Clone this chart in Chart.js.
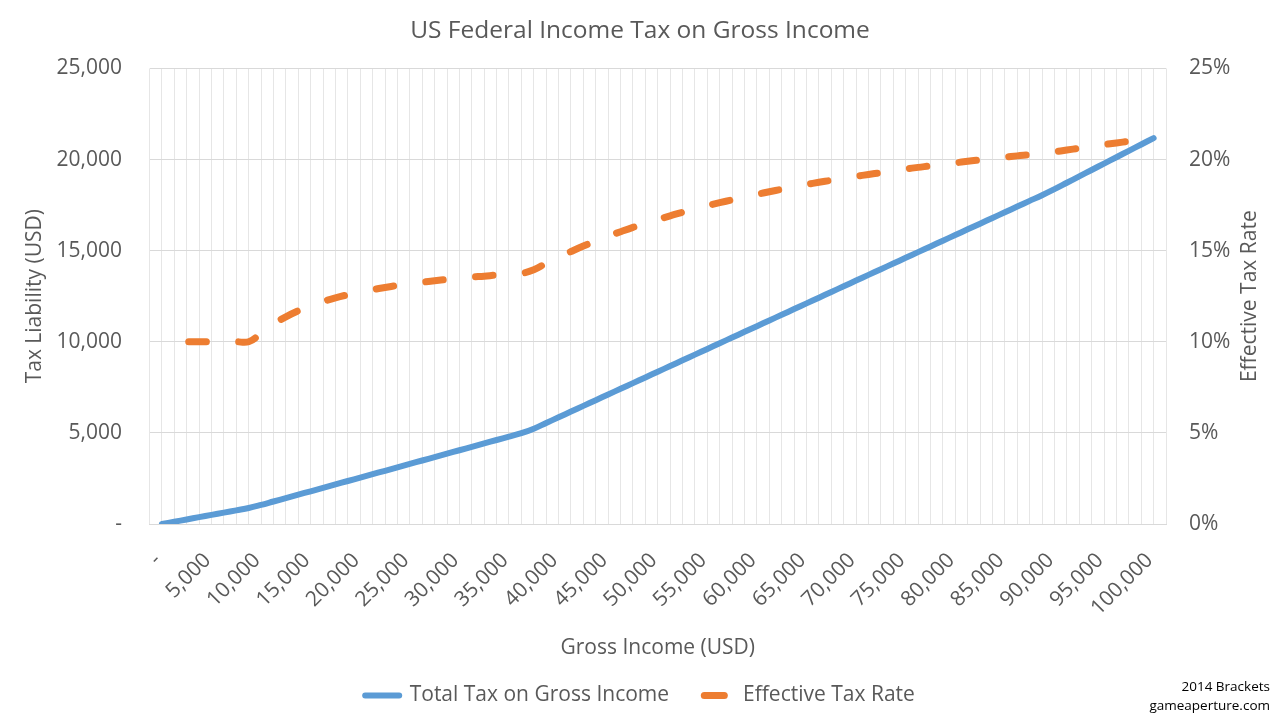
<!DOCTYPE html>
<html>
<head>
<meta charset="utf-8">
<script src="https://cdn.jsdelivr.net/npm/chart.js@4.4.1/dist/chart.umd.min.js"></script>
<style>
  html, body { margin: 0; padding: 0; background: #ffffff; }
  #wrap { position: relative; width: 1280px; height: 720px; }
  #note { position: absolute; right: 10px; top: 677px; font-family: "Open Sans", sans-serif; font-size: 13.5px; line-height: 19px; color: #000; text-align: right; }
</style>
</head>
<body>
<div id="wrap">
  <canvas id="c" width="1280" height="720"></canvas>
  <div id="note">2014 Brackets<br>gameaperture.com</div>
</div>
<script>
const incomes = [0,1250,2500,3750,5000,6250,7500,8750,10000,11250,12500,13750,15000,16250,17500,18750,20000,21250,22500,23750,25000,26250,27500,28750,30000,31250,32500,33750,35000,36250,37500,38750,40000,41250,42500,43750,45000,46250,47500,48750,50000,51250,52500,53750,55000,56250,57500,58750,60000,61250,62500,63750,65000,66250,67500,68750,70000,71250,72500,73750,75000,76250,77500,78750,80000,81250,82500,83750,85000,86250,87500,88750,90000,91250,92500,93750,95000,96250,97500,98750,100000];
const totalTax = [0,125,250,375,500,625,750,875,1046,1234,1421,1609,1796,1984,2171,2359,2546,2734,2921,3109,3296,3484,3671,3859,4046,4234,4421,4609,4796,4984,5231,5544,5856,6169,6481,6794,7106,7419,7731,8044,8356,8669,8981,9294,9606,9919,10231,10544,10856,11169,11481,11794,12106,12419,12731,13044,13356,13669,13981,14294,14606,14919,15231,15544,15856,16169,16481,16794,17106,17419,17731,18044,18376,18726,19076,19426,19776,20126,20476,20826,21176];
const effectiveRate = [null,10,10,10,10,10,10,10,10.46,10.97,11.37,11.70,11.98,12.21,12.41,12.58,12.73,12.86,12.98,13.09,13.19,13.27,13.35,13.42,13.49,13.55,13.60,13.66,13.70,13.75,13.95,14.31,14.64,14.95,15.25,15.53,15.79,16.04,16.28,16.50,16.71,16.91,17.11,17.29,17.47,17.63,17.79,17.95,18.09,18.23,18.37,18.50,18.63,18.75,18.86,18.97,19.08,19.18,19.28,19.38,19.48,19.57,19.65,19.74,19.82,19.90,19.98,20.05,20.13,20.20,20.26,20.33,20.42,20.52,20.62,20.72,20.82,20.91,21.00,21.09,21.18];
const xTickLabels = ['-','5,000','10,000','15,000','20,000','25,000','30,000','35,000','40,000','45,000','50,000','55,000','60,000','65,000','70,000','75,000','80,000','85,000','90,000','95,000','100,000'];
const xMin = -1250, xMax = 101250, xGridStep = 1250, xLabelStep = 5000;
const leftTickLabels = ['-','5,000','10,000','15,000','20,000','25,000'];
const rightTickLabels = ['0%','5%','10%','15%','20%','25%'];

const FONT = '"Open Sans", sans-serif';
const GREY = '#595959';
const BLUE = '#5B9BD5';
const ORANGE = '#ED7D31';

const rightTitlePlugin = {
  id: 'rightTitle',
  afterDraw(chart) {
    const ca = chart.chartArea;
    const ctx = chart.ctx;
    ctx.save();
    ctx.translate(1250, (ca.top + ca.bottom) / 2);
    ctx.rotate(-Math.PI / 2);
    ctx.font = '21px ' + FONT;
    ctx.fillStyle = GREY;
    ctx.textAlign = 'center';
    ctx.textBaseline = 'middle';
    ctx.fillText(chart.options.scales.y1.title.text, 0, 0);
    ctx.restore();
  }
};

new Chart(document.getElementById('c'), {
  type: 'line',
  data: {
    datasets: [
      {
        label: 'Total Tax on Gross Income',
        data: incomes.map((x, i) => ({ x: x, y: totalTax[i] })),
        yAxisID: 'y',
        borderColor: BLUE,
        backgroundColor: BLUE,
        borderWidth: 6,
        borderCapStyle: 'round',
        borderJoinStyle: 'round',
        pointRadius: 0,
        pointHoverRadius: 0,
        pointStyle: 'line',
        tension: 0.4,
        fill: false,
        order: 2
      },
      {
        label: 'Effective Tax Rate',
        data: incomes.map((x, i) => ({ x: x, y: effectiveRate[i] })),
        yAxisID: 'y1',
        borderColor: ORANGE,
        backgroundColor: ORANGE,
        borderWidth: 7,
        borderCapStyle: 'round',
        borderJoinStyle: 'round',
        borderDash: [18, 32],
        borderDashOffset: 35.8,
        pointRadius: 0,
        pointHoverRadius: 0,
        pointStyle: 'line',
        tension: 0.4,
        fill: false,
        order: 1
      }
    ]
  },
  options: {
    responsive: false,
    animation: false,
    devicePixelRatio: 1,
    layout: { padding: { left: 0, right: 0, top: 0, bottom: 4 } },
    plugins: {
      title: {
        display: true,
        text: 'US Federal Income Tax on Gross Income',
        color: GREY,
        font: { family: FONT, size: 24.5, weight: 'normal' },
        padding: { top: 16, bottom: 23 }
      },
      legend: {
        display: true,
        position: 'bottom',
        labels: {
          color: GREY,
          font: { family: FONT, size: 21 },
          usePointStyle: true,
          pointStyleWidth: 34,
          padding: 29.5,
          generateLabels(chart) {
            return chart.data.datasets.map((ds, i) => ({
              text: ds.label,
              fillStyle: ds.borderColor,
              strokeStyle: ds.borderColor,
              fontColor: GREY,
              lineWidth: ds.borderWidth,
              lineCap: 'round',
              lineDash: i === 1 ? [20, 100] : [],
              lineDashOffset: i === 1 ? -5.75 : 0,
              pointStyle: 'line',
              hidden: false,
              datasetIndex: i
            }));
          }
        }
      },
      tooltip: { enabled: false }
    },
    scales: {
      x: {
        type: 'linear',
        min: xMin,
        max: xMax,
        offset: false,
        afterFit(s) { s.height = 131.5; },
        grid: { display: true, color: '#e6e6e6', lineWidth: 1, drawTicks: false },
        border: { display: true, color: '#d9d9d9', width: 1 },
        ticks: {
          stepSize: xGridStep,
          maxTicksLimit: 200,
          autoSkip: false,
          maxRotation: 45,
          minRotation: 45,
          padding: 24,
          labelOffset: -4,
          color: GREY,
          font: { family: FONT, size: 21 },
          callback(value) {
            if (value < 0 || value > 100000 || value % xLabelStep !== 0) return '';
            return xTickLabels[value / xLabelStep];
          }
        },
        title: {
          display: true,
          text: 'Gross Income (USD)',
          color: GREY,
          font: { family: FONT, size: 21 },
          padding: { top: 0, bottom: -5.5 }
        }
      },
      y: {
        position: 'left',
        min: 0,
        max: 25000,
        afterFit(s) { s.width = 149.5; },
        grid: { display: true, color: '#d9d9d9', lineWidth: 1, drawTicks: false },
        border: { display: false },
        ticks: {
          stepSize: 5000,
          padding: 27.5,
          color: GREY,
          font: { family: FONT, size: 21 },
          callback(value, index) { return leftTickLabels[index]; }
        },
        title: {
          display: true,
          text: 'Tax Liability (USD)',
          color: GREY,
          font: { family: FONT, size: 21 },
          padding: { top: 22, bottom: 0 }
        }
      },
      y1: {
        position: 'right',
        min: 0,
        max: 25,
        afterFit(s) { s.width = 114; },
        grid: { display: false, drawTicks: false },
        border: { display: false },
        ticks: {
          stepSize: 5,
          padding: 23,
          color: GREY,
          font: { family: FONT, size: 21 },
          callback(value, index) { return rightTickLabels[index]; }
        },
        title: { display: false, text: 'Effective Tax Rate' }
      }
    }
  },
  plugins: [rightTitlePlugin]
});
</script>
</body>
</html>
